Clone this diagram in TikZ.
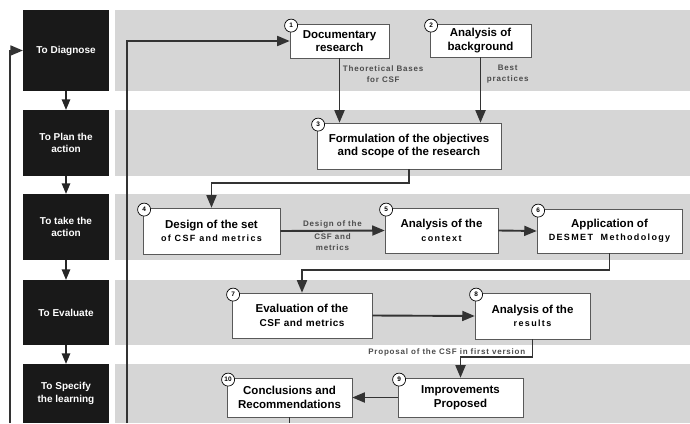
\documentclass[tikz,border=0pt]{standalone}
\usepackage{fontspec}
\setmainfont{Liberation Sans}
\usetikzlibrary{arrows}
\newcommand{\smalltxt}[1]{{\fontsize{9}{10.5}\selectfont\addfontfeatures{LetterSpace=15}#1}}

\begin{document}
\begin{tikzpicture}[x=1pt,y=-1pt,>=triangle 45]

\tikzstyle{band} = [fill=black!16]
\tikzstyle{phase} = [rectangle, fill=black!90, text=white, minimum width=86pt, align=center, font=\bfseries\fontsize{10}{12.5}\selectfont]
\tikzstyle{stepbox} = [rectangle, draw=black!65, line width=0.8pt, fill=white, align=center, inner sep=2pt, font=\bfseries\fontsize{11.5}{13.5}\selectfont]
\tikzstyle{num} = [circle, draw=black, line width=0.7pt, fill=white, minimum size=13pt, inner sep=0pt, font=\bfseries\fontsize{6.5}{6.5}\selectfont]
\tikzstyle{flow} = [->, draw=black!80, line width=1.9pt]
\tikzstyle{pflow} = [->, draw=black!85, line width=1.4pt]
\tikzstyle{lbl} = [text=black!70, align=center, inner sep=1.5pt, font=\bfseries\fontsize{8}{11}\selectfont\addfontfeatures{LetterSpace=10}]

\useasboundingbox (0,0) rectangle (690,423);

% bands
\fill[band] (115,10) rectangle (690,91);
\fill[band] (115,110) rectangle (690,176);
\fill[band] (115,194) rectangle (690,260);
\fill[band] (115,280) rectangle (690,345);
\fill[band] (115,364) rectangle (690,423);

% phases
\node (d1) [phase, minimum height=81pt] at (66,50.5) {To Diagnose};
\node (d2) [phase, minimum height=66pt] at (66,143) {To Plan the\\action};
\node (d3) [phase, minimum height=66pt] at (66,227) {To take the\\action};
\node (d4) [phase, minimum height=65pt] at (66,312.5) {To Evaluate};
\node (d5) [phase, minimum height=59pt] at (66,393.5) {To Specify\\the learning};
\foreach \a/\b in {d1/d2,d2/d3,d3/d4,d4/d5}
  \draw[pflow] (\a) -- (\b);

% steps
\node (s1) [stepbox, minimum width=99pt, minimum height=34pt] at (339.5,41) {Documentary\\research};
\node (s2) [stepbox, minimum width=101pt, minimum height=33pt] at (480.5,40.5) {Analysis of\\background};
\node (s3) [stepbox, minimum width=184pt, minimum height=46pt] at (409,146) {Formulation of the objectives\\and scope of the research};
\node (s4) [stepbox, minimum width=137pt, minimum height=46pt] at (211.5,231) {Design of the set\\\smalltxt{of CSF and metrics}};
\node (s5) [stepbox, minimum width=113pt, minimum height=45pt] at (441.5,230.5) {Analysis of the\\\smalltxt{context}};
\node (s6) [stepbox, minimum width=145pt, minimum height=44pt] at (609.5,231) {Application of\\\smalltxt{DESMET\ \ Methodology}};
\node (s7) [stepbox, minimum width=140pt, minimum height=45pt] at (302,315.5) {Evaluation of the\\{\fontsize{10}{12}\selectfont\addfontfeatures{LetterSpace=5}CSF and metrics}};
\node (s8) [stepbox, minimum width=115pt, minimum height=46pt] at (532.5,316) {Analysis of the\\\smalltxt{results}};
\node (s9) [stepbox, minimum width=125pt, minimum height=39pt] at (460.5,397.5) {Improvements\\Proposed};
\node (s10) [stepbox, minimum width=125pt, minimum height=39pt] at (289.5,397.5) {Conclusions and\\Recommendations};
\foreach \i in {1,...,10}
  \node (n\i) [num] at ([shift={(1.5,2)}]s\i.north west) {\i};

% connectors
\coordinate (loopin) at (127,423);
\coordinate (loopout) at (10,423);
\coordinate (bottom) at (289.5,423);
\draw[flow] (loopin) |- (s1.west);
\draw[flow] (loopout) |- (d1.west);
\draw[flow] (s1.south) -- node[lbl, right, xshift=1pt, pos=0.25] {Theoretical Bases\\for CSF} (s1.south |- s3.north);
\draw[flow] (s2.south) -- node[lbl, right, xshift=4pt, pos=0.25] {Best\\practices} (s2.south |- s3.north);
\draw[flow] (s3.south) -- ++(0,14) -| (s4.north);
\draw[flow] (s4.east) -- node[lbl, above] {Design of the} node[lbl, below] {CSF and\\metrics} (s5.west);
\draw[flow] (s5.east) -- (s6.west);
\draw[flow] (s6.south) -- ++(0,17) -| (s7.north);
\draw[flow] (s7.east) -- (s8.west);
\draw[flow] (s8.south) -- ++(0,18) coordinate (p8) -| (s9.north);
\node (prop) [lbl, anchor=south east, xshift=-6pt, inner sep=1pt] at (p8) {Proposal of the CSF in first version};
\draw[flow] (s9.west) -- (s10.east);
\draw[draw=black!80, line width=1.9pt] (s10.south) -- (bottom);
\end{tikzpicture}
\end{document}
